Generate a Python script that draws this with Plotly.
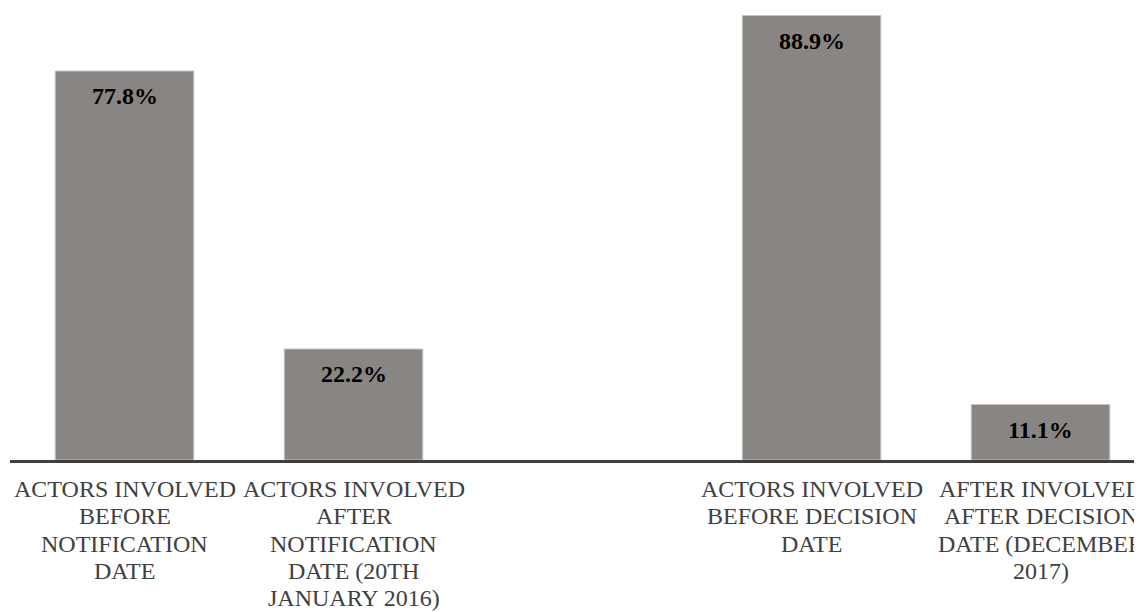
import plotly.graph_objects as go

categories = [
    "ACTORS INVOLVED<br>BEFORE<br>NOTIFICATION<br>DATE",
    "ACTORS INVOLVED<br>AFTER<br>NOTIFICATION<br>DATE (20TH<br>JANUARY 2016)",
    "ACTORS INVOLVED<br>BEFORE DECISION<br>DATE",
    "AFTER INVOLVED<br>AFTER DECISION<br>DATE (DECEMBER<br>2017)",
]
positions = [0, 1, 3, 4]
values = [77.8, 22.2, 88.9, 11.1]
labels = ["77.8%", "22.2%", "88.9%", "11.1%"]

SERIF = "Liberation Serif"

fig = go.Figure()
fig.add_trace(go.Bar(
    x=positions, y=values,
    marker=dict(color="#898583", line=dict(color="#c4c4c4", width=1)),
    width=0.605, hoverinfo="skip",
))
# value labels inside bars
for p, v, t in zip(positions, values, labels):
    fig.add_annotation(x=p, y=v, text="<b>%s</b>" % t, showarrow=False,
                       yanchor="middle", yshift=-25,
                       font=dict(family=SERIF, size=24, color="#000000"))
# category labels, one annotation per line for tight line spacing
for p, cat in zip(positions, categories):
    for i, line in enumerate(cat.split("<br>")):
        fig.add_annotation(x=p, y=0, text=line, showarrow=False,
                           yanchor="middle", yshift=-(29 + i * 27.25),
                           font=dict(family=SERIF, size=24, color="#404040"))

fig.update_layout(
    width=1134, height=604,
    margin=dict(l=2, r=0, t=2, b=152),
    paper_bgcolor="white", plot_bgcolor="white",
    showlegend=False,
    xaxis=dict(range=[-0.5, 4.443], showticklabels=False,
               showline=True, linecolor="#404040", linewidth=3,
               showgrid=False, zeroline=False, ticks=""),
    yaxis=dict(range=[0, 90], visible=False, showgrid=False, zeroline=False),
)
fig.write_html("out.html")
